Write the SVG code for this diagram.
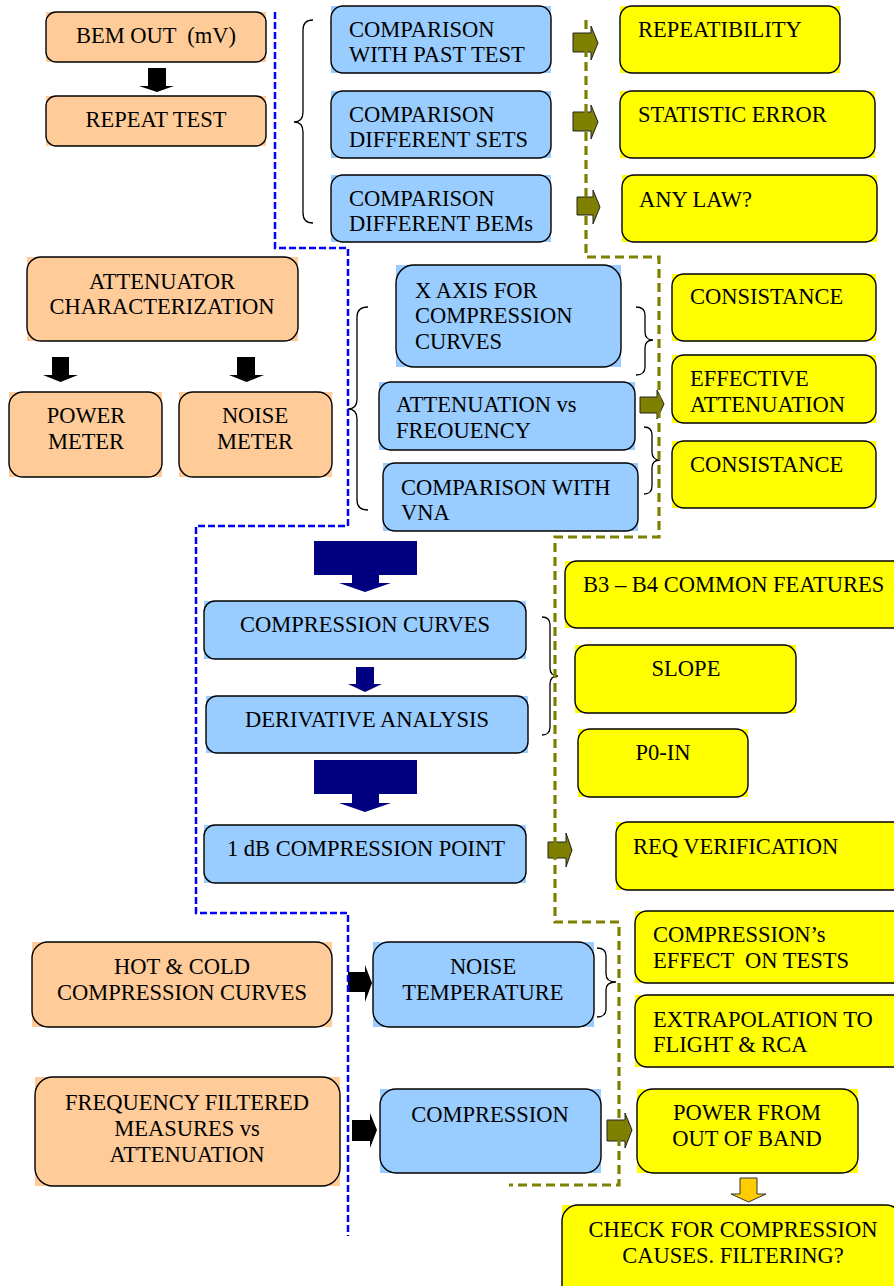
<svg xmlns="http://www.w3.org/2000/svg" width="894" height="1286" viewBox="0 0 894 1286">
<style>
text{font-size:22.5px;fill:#000}
.c{text-anchor:middle}
.bd{fill:none;stroke:#000;stroke-width:1.4}
.pe{fill:#FFCC99}
.bl{fill:#99CCFF}
.ye{fill:#FFFF00}
.blk{fill:#000}
.olv{fill:#808000;stroke:#222;stroke-width:1}
.nav{fill:#000080}
.org{fill:#FFCC00;stroke:#333;stroke-width:1}
.br{fill:none;stroke:#000;stroke-width:1.3}
.dblue{fill:none;stroke:#0000FF;stroke-width:2.5;stroke-dasharray:7 3}
.dolv{fill:none;stroke:#808000;stroke-width:3.2;stroke-dasharray:9 5}
</style>
<g id="nodes" font-family="Liberation Serif, Times New Roman, serif">
<g id="bem-out"><rect class="pe" x="46" y="12" width="220" height="50"/><rect class="bd" x="46" y="12" width="220" height="50" rx="10"/><text font-family="Liberation Serif" class="c" x="156" y="43" xml:space="preserve">BEM OUT  (mV)</text></g>
<g id="repeat-test"><rect class="pe" x="46" y="96" width="220" height="50"/><rect class="bd" x="46" y="96" width="220" height="50" rx="10"/><text font-family="Liberation Serif" class="c" x="156" y="127">REPEAT TEST</text></g>
<g id="cmp-past"><rect class="bl" x="331" y="6" width="220" height="67"/><rect class="bd" x="331" y="6" width="220" height="67" rx="12"/><text font-family="Liberation Serif" x="349" y="37">COMPARISON</text><text font-family="Liberation Serif" x="349" y="62">WITH PAST TEST</text></g>
<g id="cmp-sets"><rect class="bl" x="331" y="91" width="220" height="67"/><rect class="bd" x="331" y="91" width="220" height="67" rx="12"/><text font-family="Liberation Serif" x="349" y="122">COMPARISON</text><text font-family="Liberation Serif" x="349" y="147">DIFFERENT SETS</text></g>
<g id="cmp-bems"><rect class="bl" x="331" y="175" width="220" height="67"/><rect class="bd" x="331" y="175" width="220" height="67" rx="12"/><text font-family="Liberation Serif" x="349" y="206">COMPARISON</text><text font-family="Liberation Serif" x="349" y="231">DIFFERENT BEMs</text></g>
<g id="repeatibility"><rect class="ye" x="620" y="6" width="220" height="67"/><rect class="bd" x="620" y="6" width="220" height="67" rx="12"/><text font-family="Liberation Serif" x="638" y="37">REPEATIBILITY</text></g>
<g id="stat-error"><rect class="ye" x="620" y="91" width="255" height="67"/><rect class="bd" x="620" y="91" width="255" height="67" rx="12"/><text font-family="Liberation Serif" x="638" y="122">STATISTIC ERROR</text></g>
<g id="any-law"><rect class="ye" x="622" y="175" width="255" height="67"/><rect class="bd" x="622" y="175" width="255" height="67" rx="12"/><text font-family="Liberation Serif" x="639" y="207">ANY LAW?</text></g>
<g id="attenuator"><rect class="pe" x="27" y="257" width="271" height="84"/><rect class="bd" x="27" y="257" width="271" height="84" rx="14"/><text font-family="Liberation Serif" class="c" x="162" y="289">ATTENUATOR</text><text font-family="Liberation Serif" class="c" x="162" y="314">CHARACTERIZATION</text></g>
<g id="power-meter"><rect class="pe" x="9" y="392" width="153" height="85"/><rect class="bd" x="9" y="392" width="153" height="85" rx="14"/><text font-family="Liberation Serif" class="c" x="86" y="423">POWER</text><text font-family="Liberation Serif" class="c" x="86" y="449">METER</text></g>
<g id="noise-meter"><rect class="pe" x="179" y="392" width="153" height="85"/><rect class="bd" x="179" y="392" width="153" height="85" rx="14"/><text font-family="Liberation Serif" class="c" x="255" y="423">NOISE</text><text font-family="Liberation Serif" class="c" x="255" y="449">METER</text></g>
<g id="x-axis"><rect class="bl" x="396" y="265" width="225" height="102"/><rect class="bd" x="396" y="265" width="225" height="102" rx="18"/><text font-family="Liberation Serif" x="415" y="298">X AXIS FOR</text><text font-family="Liberation Serif" x="415" y="323">COMPRESSION</text><text font-family="Liberation Serif" x="415" y="349">CURVES</text></g>
<g id="att-freq"><rect class="bl" x="379" y="382" width="256" height="68"/><rect class="bd" x="379" y="382" width="256" height="68" rx="12"/><text font-family="Liberation Serif" x="396" y="412">ATTENUATION vs</text><text font-family="Liberation Serif" x="396" y="438">FREOUENCY</text></g>
<g id="cmp-vna"><rect class="bl" x="383" y="463" width="255" height="68"/><rect class="bd" x="383" y="463" width="255" height="68" rx="12"/><text font-family="Liberation Serif" x="401" y="495">COMPARISON WITH</text><text font-family="Liberation Serif" x="401" y="520">VNA</text></g>
<g id="consistance-1"><rect class="ye" x="672" y="274" width="204" height="67"/><rect class="bd" x="672" y="274" width="204" height="67" rx="12"/><text font-family="Liberation Serif" x="690" y="304">CONSISTANCE</text></g>
<g id="eff-att"><rect class="ye" x="672" y="355" width="204" height="68"/><rect class="bd" x="672" y="355" width="204" height="68" rx="12"/><text font-family="Liberation Serif" x="690" y="386">EFFECTIVE</text><text font-family="Liberation Serif" x="690" y="412">ATTENUATION</text></g>
<g id="consistance-2"><rect class="ye" x="672" y="441" width="204" height="67"/><rect class="bd" x="672" y="441" width="204" height="67" rx="12"/><text font-family="Liberation Serif" x="690" y="472">CONSISTANCE</text></g>
<g id="comp-curves"><rect class="bl" x="204" y="601" width="322" height="58"/><rect class="bd" x="204" y="601" width="322" height="58" rx="11"/><text font-family="Liberation Serif" class="c" x="365" y="632">COMPRESSION CURVES</text></g>
<g id="derivative"><rect class="bl" x="206" y="696" width="322" height="57"/><rect class="bd" x="206" y="696" width="322" height="57" rx="11"/><text font-family="Liberation Serif" class="c" x="367" y="727">DERIVATIVE ANALYSIS</text></g>
<g id="one-db"><rect class="bl" x="204" y="825" width="322" height="58"/><rect class="bd" x="204" y="825" width="322" height="58" rx="11"/><text font-family="Liberation Serif" class="c" x="366" y="856">1 dB COMPRESSION POINT</text></g>
<g id="b3b4"><rect class="ye" x="565" y="561" width="340" height="67"/><rect class="bd" x="565" y="561" width="340" height="67" rx="12"/><text font-family="Liberation Serif" x="583" y="592">B3 &#8211; B4 COMMON FEATURES</text></g>
<g id="slope"><rect class="ye" x="575" y="645" width="221" height="68"/><rect class="bd" x="575" y="645" width="221" height="68" rx="12"/><text font-family="Liberation Serif" class="c" x="686" y="676">SLOPE</text></g>
<g id="p0-in"><rect class="ye" x="578" y="729" width="170" height="68"/><rect class="bd" x="578" y="729" width="170" height="68" rx="12"/><text font-family="Liberation Serif" class="c" x="663" y="760">P0-IN</text></g>
<g id="req-ver"><rect class="ye" x="616" y="822" width="290" height="68"/><rect class="bd" x="616" y="822" width="290" height="68" rx="12"/><text font-family="Liberation Serif" x="633" y="854">REQ VERIFICATION</text></g>
<g id="hot-cold"><rect class="pe" x="32" y="942" width="300" height="85"/><rect class="bd" x="32" y="942" width="300" height="85" rx="16"/><text font-family="Liberation Serif" class="c" x="182" y="974">HOT &amp; COLD</text><text font-family="Liberation Serif" class="c" x="182" y="1000">COMPRESSION CURVES</text></g>
<g id="noise-temp"><rect class="bl" x="373" y="942" width="221" height="85"/><rect class="bd" x="373" y="942" width="221" height="85" rx="16"/><text font-family="Liberation Serif" class="c" x="483" y="974">NOISE</text><text font-family="Liberation Serif" class="c" x="483" y="1000">TEMPERATURE</text></g>
<g id="comp-effect"><rect class="ye" x="635" y="911" width="270" height="72"/><rect class="bd" x="635" y="911" width="270" height="72" rx="12"/><text font-family="Liberation Serif" x="653" y="942">COMPRESSION&#8217;s</text><text font-family="Liberation Serif" x="653" y="968" xml:space="preserve">EFFECT  ON TESTS</text></g>
<g id="extrapolation"><rect class="ye" x="635" y="995" width="270" height="72"/><rect class="bd" x="635" y="995" width="270" height="72" rx="12"/><text font-family="Liberation Serif" x="653" y="1027">EXTRAPOLATION TO</text><text font-family="Liberation Serif" x="653" y="1052">FLIGHT &amp; RCA</text></g>
<g id="freq-filtered"><rect class="pe" x="35" y="1077" width="305" height="109"/><rect class="bd" x="35" y="1077" width="305" height="109" rx="18"/><text font-family="Liberation Serif" class="c" x="187" y="1110">FREQUENCY FILTERED</text><text font-family="Liberation Serif" class="c" x="187" y="1136">MEASURES vs</text><text font-family="Liberation Serif" class="c" x="187" y="1162">ATTENUATION</text></g>
<g id="compression"><rect class="bl" x="380" y="1089" width="221" height="84"/><rect class="bd" x="380" y="1089" width="221" height="84" rx="16"/><text font-family="Liberation Serif" class="c" x="490" y="1122">COMPRESSION</text></g>
<g id="power-oob"><rect class="ye" x="637" y="1089" width="221" height="84"/><rect class="bd" x="637" y="1089" width="221" height="84" rx="16"/><text font-family="Liberation Serif" class="c" x="747" y="1120">POWER FROM</text><text font-family="Liberation Serif" class="c" x="747" y="1146">OUT OF BAND</text></g>
<g id="check"><rect class="ye" x="562" y="1205" width="340" height="95"/><rect class="bd" x="562" y="1205" width="340" height="95" rx="16"/><text font-family="Liberation Serif" class="c" x="733" y="1237">CHECK FOR COMPRESSION</text><text font-family="Liberation Serif" class="c" x="733" y="1263">CAUSES. FILTERING?</text></g>
</g>
<g id="connectors">
<g id="braces">
<path class="br" d="M313 20 Q303 20 303 30 L303 112 Q303 122 294 122 Q303 122 303 132 L303 213 Q303 223 313 223"/>
<path class="br" d="M368 307 Q357 307 357 317 L357 399 Q357 409 348 409 Q357 409 357 419 L357 500 Q357 510 368 510"/>
<path class="br" d="M636 307 Q645 307 645 315 L645 332 Q645 340 653 340 Q645 340 645 348 L645 367 Q645 375 636 375"/>
<path class="br" d="M644 427 Q652 427 652 435 L652 452 Q652 460 660 460 Q652 460 652 468 L652 486 Q652 494 644 494"/>
<path class="br" d="M542 617 Q550 617 550 625 L550 668 Q550 676 558 676 Q550 676 550 684 L550 727 Q550 735 542 735"/>
<path class="br" d="M597 948 Q606 948 606 956 L606 974 Q606 982 616 982 Q606 982 606 990 L606 1009 Q606 1017 597 1017"/>
</g>
<g id="arrows">
<polygon class="blk" points="148,68 166,68 166,86 174,86 157,92 139,86 148,86"/>
<polygon class="blk" points="52,357 69,357 69,375 78,375 60.5,382 43,375 52,375"/>
<polygon class="blk" points="237,357 255,357 255,375 264,375 246.5,382 229,375 237,375"/>
<polygon class="blk" points="348,972 365,972 365,965 372,983 365,1002 365,992 348,992"/>
<polygon class="blk" points="352,1120 370,1120 370,1113 377,1130 370,1148 370,1141 352,1141"/>
<polygon class="olv" points="573,33 591,33 591,26 598,43 591,60 591,52 573,52"/>
<polygon class="olv" points="573,112 591,112 591,105 598,122 591,139 591,131 573,131"/>
<polygon class="olv" points="577,197 593,197 593,190 600,207 593,224 593,215 577,215"/>
<polygon class="olv" points="640,397 657,397 657,390 664,404 657,419 657,413 640,413"/>
<polygon class="olv" points="548,842 566,842 566,833 572,850 566,867 566,858 548,858"/>
<polygon class="olv" points="607,1120 625,1120 625,1113 632,1130 625,1148 625,1141 607,1141"/>
<polygon class="org" points="740,1178 757,1178 757,1194 766,1194 748.5,1202 731,1194 740,1194"/>
<polygon class="nav" points="314,541 417,541 417,575 379,575 379,583 391,583 365,592 339,583 352,583 352,575 314,575"/>
<polygon class="nav" points="356,667 374,667 374,684 382,684 365,692 348,684 356,684"/>
<polygon class="nav" points="314,760 417,760 417,794 379,794 379,803 391,803 365,812 339,803 352,803 352,794 314,794"/>
</g>
<g id="dashed">
<path class="dblue" d="M275 12 V248 H348 V526 H196 V913 H348 V1236"/>
<path class="dolv" d="M586 20 V257 H659 V537 H555 V922 H619 V1185 H509"/>
</g>
</g>
</svg>
